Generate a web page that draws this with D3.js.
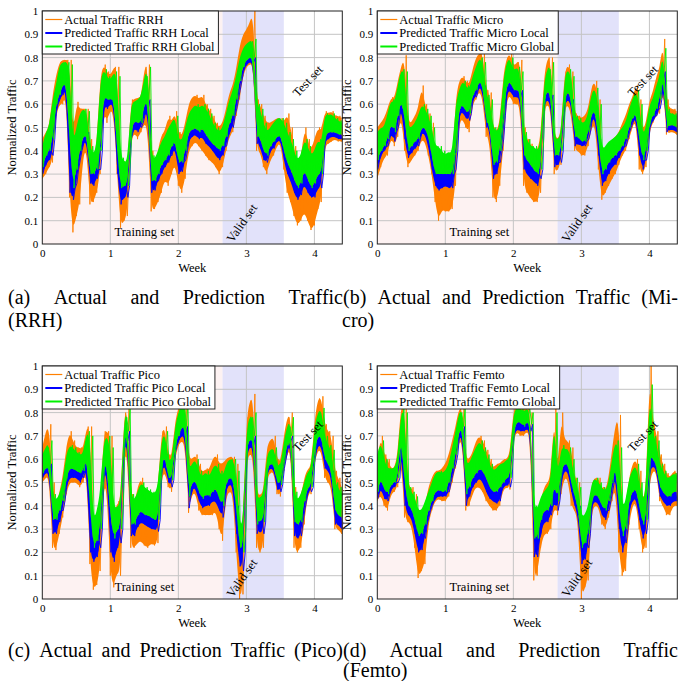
<!DOCTYPE html>
<html>
<head>
<meta charset="utf-8">
<script src="https://cdn.jsdelivr.net/npm/d3@7/dist/d3.min.js"></script>
<style>
body { margin: 0; background: #fff; }
text { font-family: "Liberation Serif", "Times New Roman", serif; fill: #000; }
</style>
</head>
<body>
<div id="root"></div>
<script>
//WEEK GRID (one reading every 0.05 week)
const weeks = d3.range(89).map(i => +(i * 0.05).toFixed(2));

//RRH (envelopes)
const rrhGlobalHi = [.42,.48,.50,.62,.68,.77,.78,.78,.77,.42,.50,.56,.58,.57,.42,.38,.42,.70,.75,.72,.70,.74,.72,.37,.36,.34,.60,.61,.62,.63,.72,.76,.38,.36,.40,.44,.46,.50,.52,.55,.45,.44,.50,.56,.58,.60,.58,.60,.58,.56,.52,.50,.48,.50,.56,.62,.66,.72,.80,.84,.86,.87,.88,.60,.58,.52,.48,.50,.52,.54,.54,.52,.48,.45,.40,.36,.38,.45,.42,.38,.40,.45,.42,.56,.55,.56,.54,.53,.52];
const rrhGlobalLo = [.33,.38,.40,.45,.60,.64,.68,.70,.45,.24,.32,.40,.46,.48,.30,.30,.32,.40,.64,.62,.62,.63,.40,.24,.25,.25,.48,.53,.52,.52,.60,.62,.27,.27,.30,.34,.36,.38,.42,.45,.35,.35,.40,.48,.49,.50,.48,.50,.47,.45,.43,.42,.40,.42,.46,.52,.55,.62,.70,.76,.79,.80,.80,.46,.46,.40,.38,.42,.44,.46,.47,.40,.35,.32,.28,.24,.26,.32,.28,.24,.26,.30,.30,.46,.48,.48,.48,.47,.47];
const rrhLocalLo = [.30,.34,.36,.38,.57,.62,.64,.68,.22,.19,.26,.36,.43,.45,.26,.25,.28,.32,.60,.58,.60,.60,.30,.17,.20,.20,.45,.50,.48,.50,.55,.58,.22,.23,.27,.30,.33,.35,.38,.42,.30,.31,.36,.44,.46,.47,.45,.46,.43,.42,.40,.38,.36,.38,.42,.48,.50,.58,.66,.74,.77,.78,.78,.43,.42,.36,.35,.40,.41,.44,.45,.36,.30,.27,.22,.19,.21,.26,.22,.20,.20,.24,.24,.44,.45,.46,.46,.45,.45];
const rrhActualHi = [.45,.48,.50,.64,.72,.78,.79,.79,.79,.45,.61,.58,.58,.58,.45,.36,.42,.72,.77,.74,.72,.76,.76,.30,.32,.30,.62,.62,.63,.62,.76,.77,.40,.33,.40,.47,.48,.55,.52,.57,.48,.46,.52,.60,.63,.64,.62,.64,.60,.58,.55,.52,.50,.52,.58,.65,.68,.75,.85,.90,.92,.95,1.0,.62,.60,.55,.52,.52,.53,.54,.54,.52,.56,.50,.42,.32,.36,.50,.45,.40,.45,.50,.48,.57,.56,.57,.55,.55,.54];
const rrhActualLo = [.28,.30,.33,.35,.55,.60,.60,.65,.20,.05,.12,.17,.38,.42,.17,.18,.22,.30,.58,.52,.58,.56,.30,.07,.10,.12,.44,.48,.45,.48,.52,.50,.14,.15,.18,.22,.28,.25,.30,.35,.25,.22,.28,.40,.42,.44,.42,.40,.38,.36,.35,.33,.30,.33,.40,.46,.48,.55,.62,.72,.76,.77,.78,.40,.40,.33,.30,.36,.38,.42,.44,.32,.22,.18,.12,.08,.10,.14,.10,.06,.08,.15,.18,.42,.43,.44,.45,.44,.44];

//MICRO
const microGlobalHi = [.48,.50,.50,.56,.62,.60,.68,.75,.74,.50,.50,.52,.55,.60,.58,.55,.50,.42,.42,.40,.38,.40,.38,.60,.66,.70,.68,.66,.72,.76,.80,.78,.64,.62,.50,.48,.50,.70,.78,.80,.74,.76,.74,.48,.45,.42,.42,.40,.42,.70,.75,.78,.45,.45,.46,.72,.75,.72,.55,.54,.52,.52,.56,.65,.67,.60,.40,.42,.44,.45,.46,.48,.50,.52,.58,.62,.66,.60,.46,.50,.60,.62,.68,.72,.84,.58,.56,.56,.55];
const microGlobalLo = [.36,.40,.42,.45,.52,.48,.55,.62,.55,.40,.42,.44,.45,.50,.50,.46,.38,.30,.30,.30,.30,.30,.30,.40,.58,.60,.57,.56,.64,.66,.70,.68,.52,.52,.34,.35,.40,.55,.68,.70,.66,.66,.66,.38,.36,.34,.32,.30,.32,.62,.66,.64,.38,.38,.40,.62,.66,.62,.46,.46,.44,.44,.48,.56,.58,.45,.30,.32,.35,.37,.38,.40,.42,.45,.50,.54,.57,.45,.36,.40,.52,.55,.58,.62,.74,.50,.51,.51,.50];
const microLocalLo = [.32,.38,.40,.42,.48,.44,.50,.60,.45,.37,.39,.41,.42,.48,.47,.42,.32,.25,.23,.24,.25,.24,.24,.32,.55,.57,.54,.53,.62,.63,.68,.65,.50,.50,.28,.30,.35,.45,.65,.66,.63,.63,.63,.32,.30,.28,.27,.25,.28,.60,.62,.60,.33,.34,.35,.60,.62,.60,.42,.43,.42,.42,.45,.53,.55,.38,.25,.27,.30,.33,.34,.37,.40,.42,.48,.52,.55,.38,.32,.36,.50,.53,.55,.58,.70,.48,.49,.49,.48];
const microActualHi = [.50,.52,.54,.58,.63,.62,.70,.76,.81,.52,.52,.55,.58,.68,.60,.56,.52,.38,.32,.33,.35,.35,.32,.62,.70,.72,.70,.68,.75,.80,.82,.82,.66,.65,.50,.48,.52,.72,.80,.82,.76,.78,.79,.50,.45,.43,.40,.40,.45,.72,.80,.80,.46,.45,.47,.74,.77,.74,.56,.55,.54,.55,.58,.68,.70,.62,.36,.38,.42,.45,.46,.48,.52,.55,.60,.63,.68,.62,.48,.52,.62,.65,.72,.75,.88,.62,.58,.58,.57];
const microActualLo = [.28,.33,.37,.38,.46,.42,.46,.56,.40,.33,.36,.38,.40,.45,.44,.38,.30,.18,.10,.15,.14,.14,.15,.25,.52,.54,.50,.48,.60,.62,.66,.62,.46,.45,.20,.18,.25,.40,.62,.64,.60,.60,.60,.25,.22,.20,.18,.18,.22,.58,.60,.58,.30,.32,.34,.58,.60,.56,.40,.40,.38,.38,.42,.50,.52,.32,.19,.22,.25,.28,.30,.34,.38,.40,.45,.50,.54,.32,.30,.33,.48,.52,.55,.56,.68,.47,.48,.48,.47];

//PICO
const picoGlobalHi = [.62,.65,.68,.45,.42,.45,.50,.62,.66,.65,.63,.62,.62,.72,.70,.32,.38,.45,.68,.70,.65,.38,.40,.40,.78,.82,.45,.42,.46,.50,.48,.47,.46,.45,.48,.68,.72,.60,.58,.74,.80,.84,.84,.55,.58,.60,.55,.52,.55,.52,.56,.58,.55,.52,.58,.60,.60,.55,.32,.30,.74,.78,.80,.42,.44,.44,.62,.64,.65,.58,.56,.68,.74,.78,.46,.42,.45,.50,.55,.55,.74,.80,.82,.70,.66,.64,.50,.48,.45];
const picoGlobalLo = [.54,.56,.58,.34,.34,.38,.42,.52,.56,.56,.55,.54,.55,.62,.40,.22,.25,.30,.58,.58,.35,.26,.30,.30,.70,.72,.32,.32,.36,.38,.36,.36,.35,.34,.34,.58,.62,.52,.51,.66,.70,.74,.74,.44,.50,.51,.46,.43,.45,.44,.46,.48,.43,.40,.50,.52,.52,.40,.22,.20,.66,.68,.70,.32,.34,.33,.56,.58,.58,.50,.49,.60,.66,.70,.33,.32,.33,.42,.48,.48,.64,.70,.70,.60,.58,.55,.38,.36,.35];
const picoLocalLo = [.52,.54,.55,.28,.28,.33,.38,.48,.52,.52,.52,.50,.52,.58,.20,.16,.18,.22,.55,.54,.20,.16,.22,.24,.66,.68,.27,.27,.31,.33,.32,.31,.30,.30,.29,.55,.58,.50,.48,.63,.68,.70,.70,.39,.47,.48,.42,.39,.40,.40,.42,.42,.38,.35,.47,.49,.49,.28,.14,.12,.62,.65,.66,.28,.29,.28,.54,.56,.56,.47,.46,.56,.64,.68,.27,.26,.27,.38,.46,.46,.60,.66,.66,.56,.55,.52,.32,.32,.30];
const picoActualHi = [.65,.72,.75,.50,.38,.46,.52,.65,.72,.68,.65,.65,.64,.74,.74,.25,.30,.38,.72,.72,.70,.35,.42,.40,.80,.82,.45,.40,.48,.52,.47,.46,.45,.44,.46,.72,.74,.62,.60,.76,.82,.86,.86,.60,.60,.62,.58,.54,.56,.55,.60,.62,.58,.58,.60,.61,.61,.58,.30,.30,.78,.85,.88,.44,.45,.45,.66,.68,.70,.60,.58,.70,.78,.80,.48,.42,.44,.52,.56,.56,.76,.86,.87,.75,.72,.70,.55,.52,.48];
const picoActualLo = [.50,.52,.53,.22,.21,.28,.35,.45,.50,.50,.50,.48,.50,.56,.15,.04,.06,.12,.50,.48,.10,.05,.12,.10,.62,.64,.22,.22,.24,.25,.23,.22,.24,.23,.24,.52,.55,.48,.46,.60,.66,.68,.66,.37,.45,.46,.38,.36,.36,.36,.36,.38,.30,.25,.44,.46,.46,.20,.00,.02,.60,.62,.62,.22,.20,.22,.52,.54,.55,.45,.44,.55,.62,.66,.22,.20,.22,.32,.45,.45,.58,.64,.64,.52,.50,.48,.30,.30,.28];

//FEMTO
const femtoGlobalHi = [.62,.68,.60,.56,.56,.56,.60,.82,.80,.48,.46,.44,.38,.38,.42,.46,.50,.54,.55,.54,.55,.58,.65,.72,.80,.82,.58,.58,.62,.65,.68,.65,.62,.58,.55,.56,.58,.58,.60,.60,.80,.82,.82,.80,.82,.80,.40,.38,.44,.46,.48,.50,.80,.50,.66,.64,.65,.60,.52,.48,.35,.36,.40,.50,.52,.50,.48,.46,.50,.60,.68,.65,.38,.42,.52,.55,.58,.50,.42,.45,.92,.70,.68,.58,.55,.52,.52,.54,.53];
const femtoGlobalLo = [.46,.52,.47,.45,.49,.50,.52,.72,.50,.40,.39,.34,.27,.28,.32,.38,.42,.46,.47,.46,.46,.50,.56,.62,.72,.74,.45,.48,.52,.54,.56,.55,.52,.48,.46,.46,.48,.50,.52,.52,.72,.76,.76,.74,.76,.75,.26,.26,.34,.38,.38,.40,.50,.42,.55,.58,.58,.50,.44,.40,.22,.24,.28,.43,.45,.44,.40,.38,.42,.50,.58,.40,.27,.30,.42,.46,.48,.40,.32,.34,.62,.60,.58,.48,.46,.44,.44,.46,.46];
const femtoLocalLo = [.43,.48,.43,.42,.47,.48,.50,.66,.40,.36,.35,.28,.20,.21,.26,.35,.40,.43,.44,.44,.44,.46,.53,.58,.70,.70,.40,.44,.48,.50,.52,.50,.46,.43,.42,.41,.42,.48,.49,.48,.70,.73,.72,.72,.73,.72,.18,.18,.28,.33,.33,.36,.42,.38,.50,.55,.55,.46,.40,.36,.15,.17,.22,.40,.42,.41,.36,.34,.38,.46,.55,.30,.20,.24,.38,.42,.44,.34,.26,.28,.55,.57,.56,.44,.42,.40,.40,.42,.42];
const femtoActualHi = [.60,.70,.62,.60,.56,.56,.62,.85,.82,.48,.48,.45,.33,.33,.40,.48,.52,.55,.55,.56,.58,.62,.68,.74,.82,.82,.60,.60,.63,.68,.70,.68,.64,.60,.56,.58,.58,.60,.60,.62,.82,.82,.82,.82,.82,.80,.35,.32,.42,.48,.50,.52,.82,.50,.80,.68,.68,.65,.52,.50,.30,.32,.35,.50,.52,.52,.48,.46,.52,.64,.75,.79,.35,.40,.52,.58,.60,.55,.42,.45,1.0,.75,.72,.62,.58,.54,.52,.55,.54];
const femtoActualLo = [.42,.45,.40,.38,.45,.46,.48,.62,.35,.33,.32,.22,.09,.12,.15,.32,.38,.42,.43,.42,.42,.44,.50,.56,.68,.68,.38,.40,.45,.48,.48,.46,.42,.40,.38,.38,.40,.47,.48,.47,.68,.72,.70,.70,.72,.70,.08,.10,.22,.28,.28,.30,.40,.36,.45,.52,.52,.40,.38,.34,.00,.05,.08,.38,.40,.40,.32,.30,.35,.42,.50,.20,.10,.12,.32,.40,.42,.30,.20,.22,.50,.55,.55,.42,.40,.36,.36,.40,.40];

//TICKS, LABELS, SPLITS
const yTicks = d3.range(0, 11).map(i => i / 10);
const yTickLabels = ["0", "0.1", "0.2", "0.3", "0.4", "0.5", "0.6", "0.7", "0.8", "0.9", "1"];
const xTicks = [0, 1, 2, 3, 4];
const trainEnd = 2.65, validEnd = 3.55, weekMax = 4.41;
const seriesColors = ["#ff8000", "#0000ff", "#00f000"];

//PANEL LAYOUT
const panels = [
  {name: "RRH", left: 42.3, top: 11, gHi: rrhGlobalHi, gLo: rrhGlobalLo, bLo: rrhLocalLo, aHi: rrhActualHi, aLo: rrhActualLo},
  {name: "Micro", left: 377.3, top: 11, gHi: microGlobalHi, gLo: microGlobalLo, bLo: microLocalLo, aHi: microActualHi, aLo: microActualLo},
  {name: "Pico", left: 42.3, top: 366, gHi: picoGlobalHi, gLo: picoGlobalLo, bLo: picoLocalLo, aHi: picoActualHi, aLo: picoActualLo},
  {name: "Femto", left: 377.3, top: 366, gHi: femtoGlobalHi, gLo: femtoGlobalLo, bLo: femtoLocalLo, aHi: femtoActualHi, aLo: femtoActualLo}
];
const plotW = 300, plotH = 233;

//CREATE SVG
let svg = d3.select('#root')
  .append('svg')
  .attr('width', 681)
  .attr('height', 681);

// lo -> hi -> lo ... traced over the band, gives the spiky look of the raw traffic
function zigzag(lo, hi, shift) {
  const pts = [];
  weeks.forEach((w, i) => {
    pts.push([w + shift, lo[i]]);
    pts.push([w + shift + 0.025, hi[i]]);
  });
  return pts;
}

panels.forEach((p, k) => {
  const x = d3.scaleLinear().domain([0, weekMax]).range([p.left, p.left + plotW]);
  const y = d3.scaleLinear().domain([0, 1]).range([p.top + plotH, p.top]);
  const g = svg.append('g');

  g.append('clipPath').attr('id', 'clip' + k)
    .append('rect')
    .attr('x', x(0)).attr('y', y(1))
    .attr('width', plotW).attr('height', plotH);

  //SHADED SPLITS
  g.append('rect')
    .attr('x', x(0)).attr('y', y(1))
    .attr('width', x(trainEnd) - x(0)).attr('height', plotH)
    .attr('fill', '#fdf2f2');
  g.append('rect')
    .attr('x', x(trainEnd)).attr('y', y(1))
    .attr('width', x(validEnd) - x(trainEnd)).attr('height', plotH)
    .attr('fill', '#e2e2fa');

  //GRID
  g.selectAll('.hg').data(yTicks.slice(1, -1)).join('line')
    .attr('x1', x(0)).attr('x2', x(weekMax))
    .attr('y1', d => y(d)).attr('y2', d => y(d))
    .attr('stroke', '#c4c4c4').attr('stroke-width', 1);
  g.selectAll('.vg').data(xTicks.slice(1)).join('line')
    .attr('x1', d => x(d)).attr('x2', d => x(d))
    .attr('y1', y(0)).attr('y2', y(1))
    .attr('stroke', '#c4c4c4').attr('stroke-width', 1);

  //BANDS: actual behind, then local, then global on top
  const band = (lo, hi) => d3.area()
    .x(d => x(d))
    .y0((d, i) => y(lo[i]))
    .y1((d, i) => y(hi[i]))
    .curve(d3.curveBasis);
  const line = d3.line().x(d => x(d[0])).y(d => y(d[1]));
  const data = g.append('g').attr('clip-path', `url(#clip${k})`);
  const layers = [[p.aLo, p.aHi, 0], [p.bLo, p.gLo, 0.0083], [p.gLo, p.gHi, 0.0166]];
  layers.forEach(([lo, hi, shift], s) => {
    data.append('path').datum(weeks)
      .attr('fill', seriesColors[s])
      .attr('d', band(lo, hi));
    data.append('path').datum(zigzag(lo, hi, shift))
      .attr('fill', 'none').attr('stroke', seriesColors[s]).attr('stroke-width', 0.9)
      .attr('d', line);
  });

  //AXES
  const yAxis = g.append('g')
    .attr('transform', `translate(${x(0)},0)`)
    .call(d3.axisLeft(y).tickValues(yTicks).tickFormat((d, i) => yTickLabels[i]).tickSize(0).tickPadding(4));
  const xAxis = g.append('g')
    .attr('transform', `translate(0,${y(0)})`)
    .call(d3.axisBottom(x).tickValues(xTicks).tickFormat(d3.format('d')).tickSize(0).tickPadding(5));
  [yAxis, xAxis].forEach(a => {
    a.select('.domain').remove();
    a.selectAll('text').attr('font-size', 11).attr('font-family', '"Liberation Serif", serif');
  });

  g.append('rect')
    .attr('x', x(0)).attr('y', y(1))
    .attr('width', plotW).attr('height', plotH)
    .attr('fill', 'none').attr('stroke', '#222').attr('stroke-width', 1);

  //AXIS TITLES
  g.append('text')
    .attr('transform', `translate(${p.left - 26},${y(0.5)}) rotate(-90)`)
    .attr('text-anchor', 'middle').attr('font-size', 12.5)
    .text('Normalized Traffic');
  g.append('text')
    .attr('x', x(weekMax / 2)).attr('y', y(0) + 28)
    .attr('text-anchor', 'middle').attr('font-size', 12.5)
    .text('Week');

  //SET NOTES
  g.append('text')
    .attr('x', x(1.5)).attr('y', y(0) - 8)
    .attr('text-anchor', 'middle').attr('font-size', 12.5)
    .text('Training set');
  g.append('text')
    .attr('transform', `translate(${x(2.93)},${y(0.09)}) rotate(-55)`)
    .attr('text-anchor', 'middle').attr('dy', '0.35em').attr('font-size', 12.5)
    .text('Valid set');
  g.append('text')
    .attr('transform', `translate(${x(3.9)},${y(0.7)}) rotate(-47)`)
    .attr('text-anchor', 'middle').attr('dy', '0.35em').attr('font-size', 12.5)
    .text('Test set');

  //LEGEND
  const names = [`Actual Traffic ${p.name}`, `Predicted Traffic ${p.name} Local`, `Predicted Traffic ${p.name} Global`];
  const leg = g.append('g').attr('transform', `translate(${x(0)},${y(1)})`);
  const box = leg.append('rect')
    .attr('height', 43)
    .attr('fill', '#fff').attr('stroke', '#222').attr('stroke-width', 1);
  let maxW = 0;
  names.forEach((n, i) => {
    leg.append('line')
      .attr('x1', 3).attr('x2', 20)
      .attr('y1', 8.5 + i * 13.5).attr('y2', 8.5 + i * 13.5)
      .attr('stroke', seriesColors[i]).attr('stroke-width', i === 0 ? 1.2 : 2);
    const t = leg.append('text')
      .attr('x', 22).attr('y', 12.5 + i * 13.5)
      .attr('font-size', 12.5)
      .text(n);
    maxW = Math.max(maxW, t.node().getComputedTextLength());
  });
  box.attr('width', maxW + 26);
});

//CAPTIONS (words spread to the column width, as in the paper)
function justify(words, x0, x1, yBase) {
  const ts = words.map(w => svg.append('text').attr('y', yBase).attr('font-size', 20).text(w));
  const widths = ts.map(t => t.node().getComputedTextLength());
  const gap = (x1 - x0 - d3.sum(widths)) / (words.length - 1);
  let cx = x0;
  ts.forEach((t, i) => { t.attr('x', cx); cx += widths[i] + gap; });
}
function plain(str, x0, yBase) {
  svg.append('text').attr('x', x0).attr('y', yBase).attr('font-size', 20).text(str);
}
justify(["(a)", "Actual", "and", "Prediction", "Traffic"], 8, 343, 304);
plain("(RRH)", 8, 327);
justify(["(b)", "Actual", "and", "Prediction", "Traffic", "(Mi-"], 343, 678, 304);
plain("cro)", 342, 327);
justify(["(c)", "Actual", "and", "Prediction", "Traffic", "(Pico)"], 8, 343, 657);
justify(["(d)", "Actual", "and", "Prediction", "Traffic"], 343, 678, 657);
plain("(Femto)", 343, 677);
</script>
</body>
</html>
